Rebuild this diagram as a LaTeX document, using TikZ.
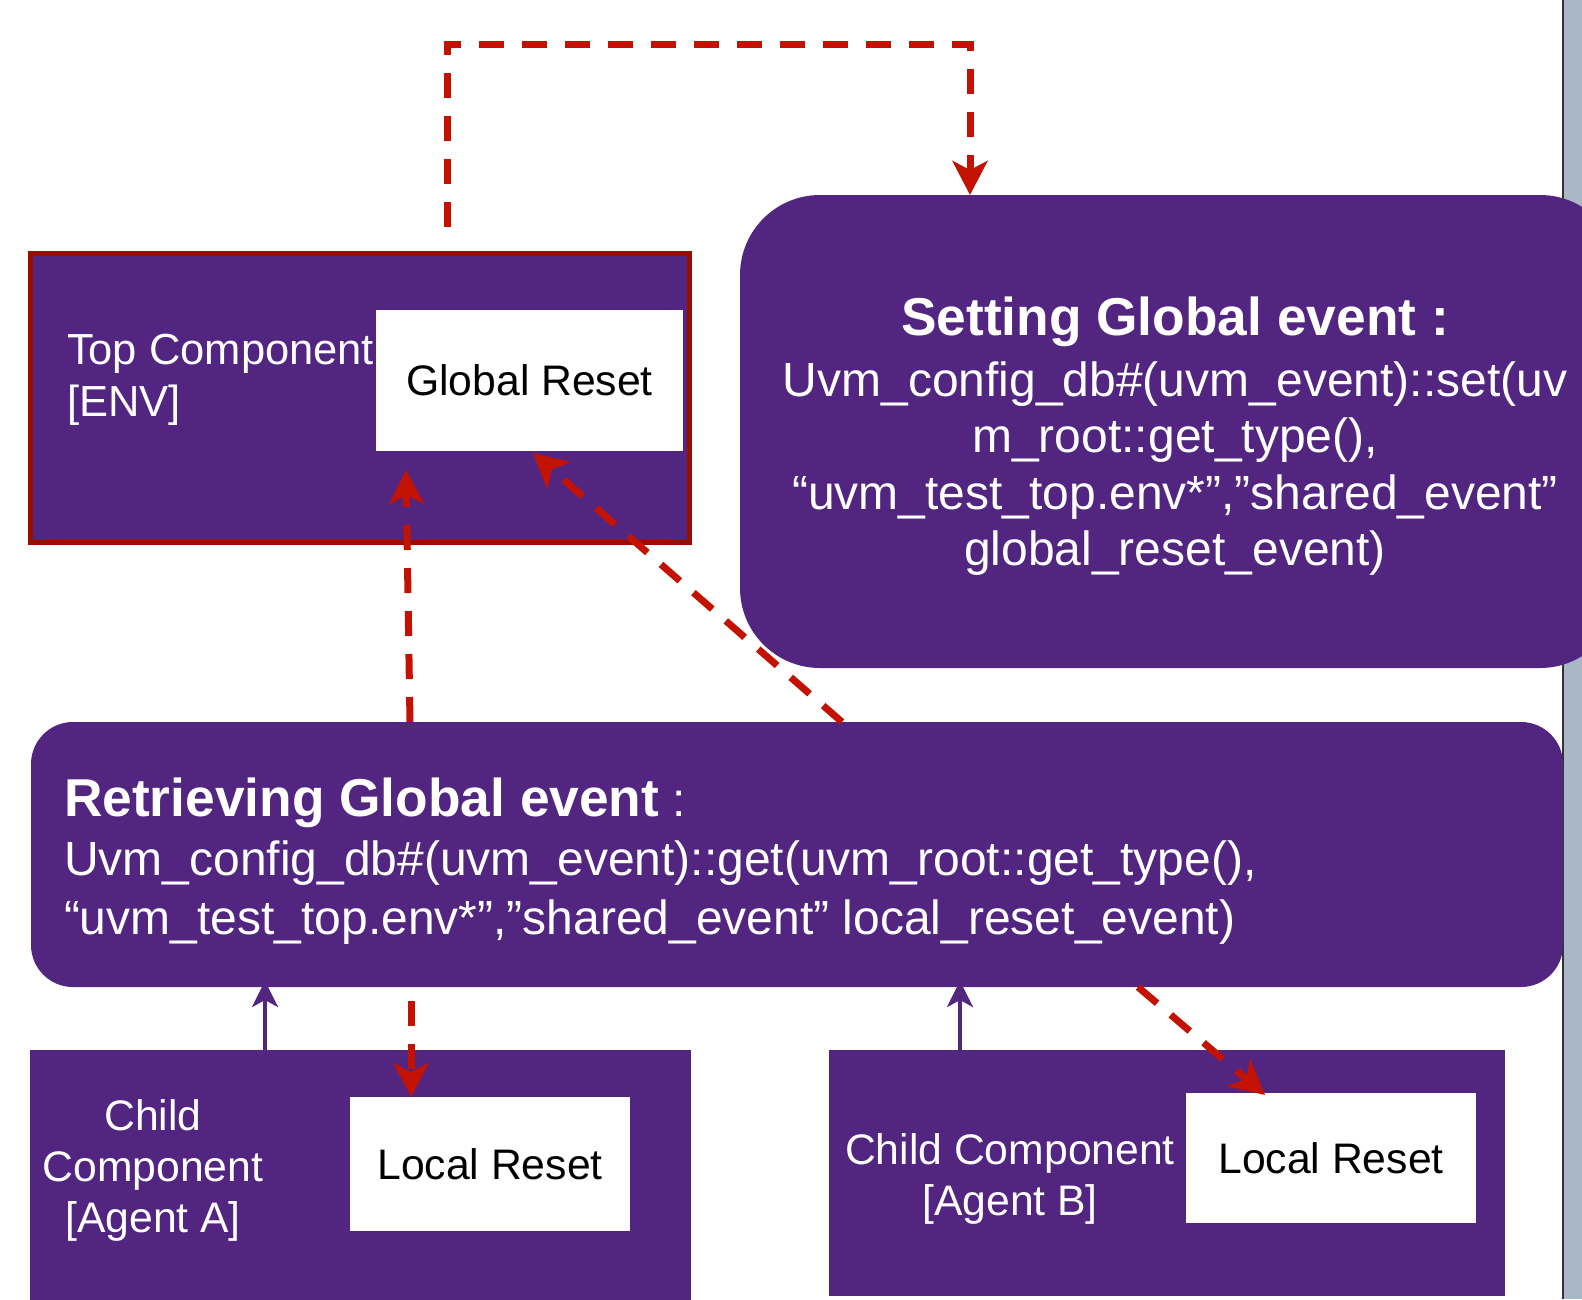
\documentclass[tikz,border=0pt]{standalone}
\usepackage{fontspec}
\setmainfont{Liberation Sans}
\usetikzlibrary{arrows.meta,calc}
\definecolor{pur}{RGB}{81,37,128}
\definecolor{rd}{RGB}{196,18,2}
\definecolor{drd}{RGB}{155,12,0}
\definecolor{gry}{RGB}{169,183,198}
\begin{document}
\begin{tikzpicture}[x=1pt,y=-1pt,
  pbox/.style={fill=pur, draw=none, inner sep=0pt, outer sep=0pt, anchor=north west},
  wbox/.style={fill=white, draw=none, inner sep=0pt, outer sep=0pt, anchor=north west, text=black, font=\fontsize{42.7}{51}\selectfont},
  wtxt/.style={text=white, inner sep=0pt, outer sep=0pt},
  redarrow/.style={draw=rd, line width=7pt, dash pattern=on 25pt off 18pt, -{Stealth[length=34pt,width=35pt,inset=9pt]}},
  purarrow/.style={draw=pur, line width=4pt, -{Stealth[length=26pt,width=26pt,inset=7pt]}}]
\useasboundingbox (0,0) rectangle (1582,1299);
\clip (0,0) rectangle (1582,1299);
% grey side strip
\fill[gry] (1563,0) rectangle (1582,1299);
\draw[line width=2pt, black!80] (1563,0) -- (1563,1299);
% boxes
\node[pbox, draw=drd, line width=5pt, minimum width=659pt, minimum height=289pt] (top) at (30.5,253.5) {};
\node[wbox, minimum width=307pt, minimum height=141pt] (gr) at (376,310) {\raisebox{-3pt}{Global Reset}};
\node[wtxt, anchor=west, align=left, font=\fontsize{43.5}{52}\selectfont] (toptxt) at (67,380) {Top Component\\{}[ENV]};
\node[pbox, rounded corners=80pt, minimum width=880pt, minimum height=473pt] (set) at (740,195) {};
\node[wtxt, align=center, font=\fontsize{48}{56.5}\selectfont] (settxt) at (1175,436)
  {{\fontsize{53.3}{56.5}\selectfont\bfseries Setting Global event :}\\[4.5pt]Uvm\_config\_db\#(uvm\_event)::set(uv\\m\_root::get\_type(),\\“uvm\_test\_top.env*”,”shared\_event”\\global\_reset\_event)};
\node[pbox, rounded corners=42pt, minimum width=1532pt, minimum height=265pt] (ret) at (31,722) {};
\node[wtxt, anchor=west, align=left, font=\fontsize{48}{59}\selectfont] (rettxt) at (64,861)
  {{\fontsize{53.3}{59}\selectfont\bfseries Retrieving Global event} :\\Uvm\_config\_db\#(uvm\_event)::get(uvm\_root::get\_type(),\\“uvm\_test\_top.env*”,”shared\_event” local\_reset\_event)};
\node[pbox, minimum width=661pt, minimum height=260pt] (chA) at (30,1050) {};
\node[wbox, minimum width=280pt, minimum height=134pt] (lrA) at (350,1097) {Local Reset};
\node[wtxt, align=center, font=\fontsize{42.7}{51}\selectfont] (chAtxt) at (153,1170) {Child\\Component\\{}[Agent A]};
\node[pbox, minimum width=676pt, minimum height=246pt] (chB) at (829,1050) {};
\node[wbox, minimum width=290pt, minimum height=130pt] (lrB) at (1186,1093) {\raisebox{-2pt}{Local Reset}};
\node[wtxt, align=center, font=\fontsize{42.7}{51}\selectfont] (chBtxt) at (1010,1179) {Child Component\\{}[Agent B]};
% connectors
\coordinate (ts) at (447,227);
\coordinate (tc) at (447,44);
\coordinate (tr) at (970,44);
\draw[redarrow] (ts) -- (tc) -- (tr) -- (tr |- set.north);
\draw[redarrow] ([shift={(379,0)}]ret.north west) -- ([shift={(30,19)}]gr.south west);
\draw[redarrow] ([shift={(811,0)}]ret.north west) -- ([shift={(157,2)}]gr.south west);
\draw[redarrow] ([shift={(380,14)}]ret.south west) -- ([shift={(61,0)}]lrA.north west);
\draw[redarrow] ([shift={(1107,0)}]ret.south west) -- ([shift={(79,2)}]lrB.north west);
\draw[purarrow] ([shift={(235,0)}]chA.north west) -- ([shift={(234,-6)}]ret.south west);
\draw[purarrow] ([shift={(131,0)}]chB.north west) -- ([shift={(929,-6)}]ret.south west);
\end{tikzpicture}
\end{document}
